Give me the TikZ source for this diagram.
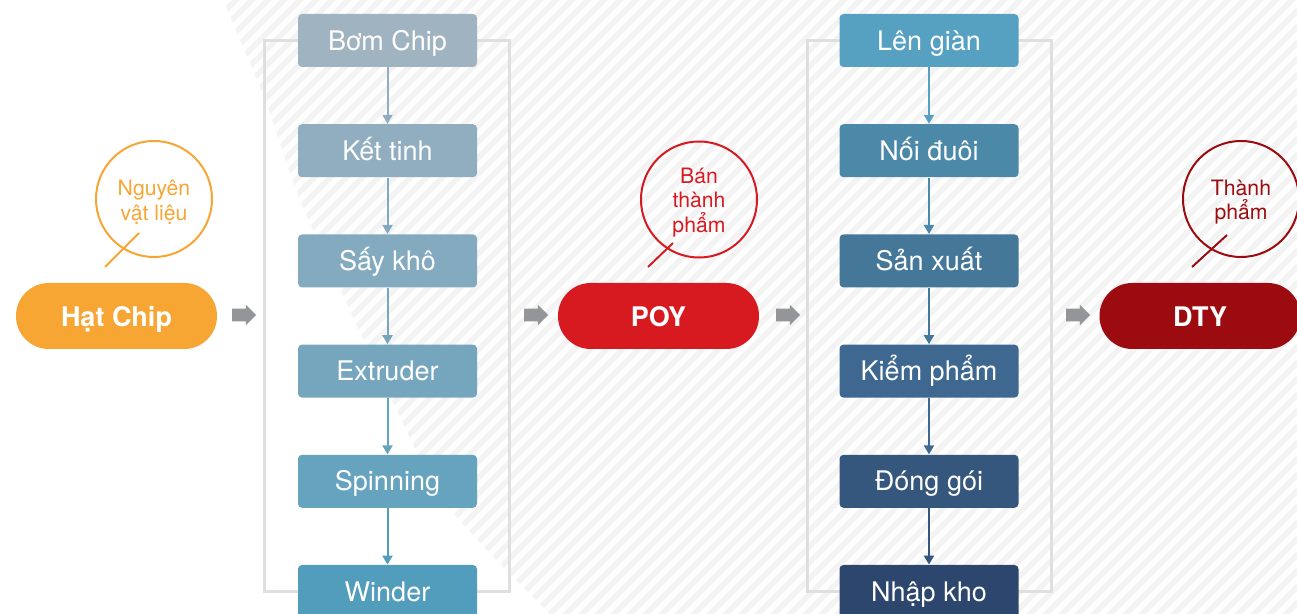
\documentclass[tikz,border=0pt]{standalone}
\usepackage{fontspec}
\setmainfont{TeX Gyre Heros}
\usetikzlibrary{arrows.meta,shapes.arrows,backgrounds}

\definecolor{chipcol}{HTML}{F7A533}
\definecolor{poycol}{HTML}{D71920}
\definecolor{dtycol}{HTML}{9B0B10}
\definecolor{framecol}{HTML}{DFDFDF}
\definecolor{stripecol}{HTML}{F3F3F3}
\definecolor{greyarrow}{HTML}{939598}
\definecolor{lc1}{HTML}{A0B3C0}
\definecolor{lc2}{HTML}{91AEC0}
\definecolor{lc3}{HTML}{84AABF}
\definecolor{lc4}{HTML}{76A6BE}
\definecolor{lc5}{HTML}{66A3BE}
\definecolor{lc6}{HTML}{529DBB}
\definecolor{rc1}{HTML}{56A1C1}
\definecolor{rc2}{HTML}{4C89A9}
\definecolor{rc3}{HTML}{457799}
\definecolor{rc4}{HTML}{3E6890}
\definecolor{rc5}{HTML}{35567D}
\definecolor{rc6}{HTML}{2C466E}

\begin{document}
\begin{tikzpicture}[x=0.5pt,y=-0.5pt,
  stepbox/.style={rectangle,rounded corners=2pt,minimum width=89.5pt,minimum height=26.5pt,
    inner sep=0pt,text height=9.6pt,text depth=0pt,text=white,font=\fontsize{13.5}{16}\selectfont},
  pill/.style={rectangle,rounded corners=16.4pt,minimum width=100.5pt,minimum height=33pt,
    text height=10.7pt,text depth=0pt,text=white,font=\bfseries\fontsize{13.5}{16}\selectfont},
  bubble/.style={circle,draw,line width=1pt,minimum size=58pt,inner sep=0pt},
  bubtext/.style={align=center,inner sep=0pt,font=\fontsize{10.6}{12.3}\selectfont},
  tail/.style={line width=1pt},
  flow/.style={-{Triangle[width=5pt,length=4.5pt]},line width=1pt},
  frame/.style={draw=framecol,line width=1.5pt},
  bigarrow/.style={single arrow,fill=greyarrow,minimum height=12pt,inner sep=3pt,
    single arrow head extend=2pt}]
\useasboundingbox (0,0) rectangle (1297,614);

% boxes of the two lines
\foreach \t [count=\i] in {Bơm Chip,Kết tinh,Sấy khô,Extruder,Spinning,Winder}
  \node[stepbox,fill=lc\i] (l\i) at (387.5,{40.5+110.2*(\i-1)}) {\t};
\foreach \t [count=\i] in {Lên giàn,Nối đuôi,Sản xuất,Kiểm phẩm,Đóng gói,Nhập kho}
  \node[stepbox,fill=rc\i] (r\i) at (929,{40.5+110.2*(\i-1)}) {\t};

\foreach \i/\j in {1/2,2/3,3/4,4/5,5/6}{
  \draw[flow,lc\j] (l\i.south) -- (l\j.north);
  \draw[flow,rc\i] (r\i.south) -- (r\j.north);
}

% products
\node[pill,fill=chipcol] (chip) at (116.5,316) {Hạt Chip};
\node[pill,fill=poycol] (poy) at (658.5,316) {POY};
\node[pill,fill=dtycol] (dty) at (1200,316) {DTY};

\node[bigarrow] (a1) at (241,315) {};
\node[bigarrow] (a2) at (533,315) {};
\node[bigarrow] (a3) at (785,315) {};
\node[bigarrow] (a4) at (1075,315) {};

% bubbles
\node[bubble,draw=chipcol] (b1) at (154,199) {};
\node[bubble,draw=poycol] (b2) at (699,199.5) {};
\node[bubble,draw=dtycol] (b3) at (1241,199) {};
\node[bubtext,text=chipcol] (b1t) at ([yshift=-1.5pt]b1.center) {Nguyên\\vật liệu};
\node[bubtext,text=poycol] (b2t) at ([yshift=-1.5pt]b2.center) {Bán\\thành\\phẩm};
\node[bubtext,text=dtycol] (b3t) at ([yshift=-1.5pt]b3.center) {Thành\\phẩm};
\coordinate (t1a) at (139,233);
\coordinate (t1b) at (105,267);
\coordinate (t2a) at (673,243);
\coordinate (t2b) at (648,267);
\coordinate (t3a) at (1227,235);
\coordinate (t3b) at (1192,267);
\draw[tail,chipcol] (t1a) -- (t1b);
\draw[tail,poycol] (t2a) -- (t2b);
\draw[tail,dtycol] (t3a) -- (t3b);

\begin{pgfonlayer}{background}
  \begin{scope}
    \clip plot[smooth] coordinates {(222,-2) (265,100) (300,200) (345,300) (392,400) (447,505) (552,616)}
      -- (1300,616) -- (1300,-2) -- cycle;
    \foreach \s in {-400,-384,...,1300}
      \draw[stripecol,line width=2.8pt] (\s,620) -- ++(640,-640);
  \end{scope}
  \draw[frame] ([xshift=-16.5pt]l1.west) rectangle ([xshift=16pt]l6.east);
  \draw[frame] ([xshift=-16pt]r1.west) rectangle ([xshift=16.5pt]r6.east);
\end{pgfonlayer}
\end{tikzpicture}
\end{document}
